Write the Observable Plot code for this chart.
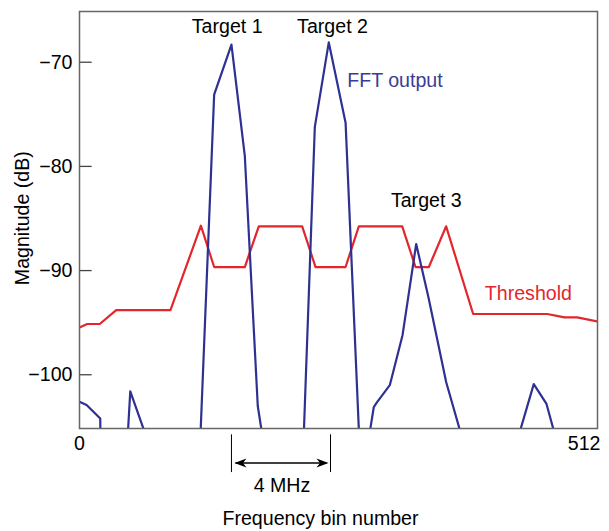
<!DOCTYPE html>
<html>
<head>
<meta charset="utf-8">
<script src="https://cdn.jsdelivr.net/npm/d3@7"></script>
<script src="https://cdn.jsdelivr.net/npm/@observablehq/plot@0.6"></script>
<style>
  html, body { margin: 0; padding: 0; background: #fff; }
</style>
</head>
<body>
<div id="chart"></div>
<script>
// FFT output (blue) — frequency bin vs magnitude (dB); values below the frame are estimated from slopes
const fftBins = [0, 7, 20.5, 21.5, 44, 50.2, 63.3, 67, 117, 133.1, 150.2, 163.4, 176.2, 185, 219, 232.6, 246.4, 263, 278, 285.5, 287.6, 290.9, 293.6, 306.7, 319.3, 332.8, 345, 362.4, 378, 430, 449, 461.6, 470, 512];
const fftDb   = [-102.6, -102.9, -104.2, -114, -112, -101.6, -105.2, -106.5, -112, -73.1, -68.3, -79.0, -103.0, -108.5, -113, -76.2, -68.1, -75.8, -109.5, -109, -105.1, -103.1, -102.7, -101.0, -96.2, -87.45, -92.6, -100.7, -106, -107.2, -100.9, -102.8, -105.8, -115];

// Threshold (red)
const thrBins = [0, 7.6, 20, 36.3, 89.9, 120, 133.1, 163.4, 177.2, 220.1, 233.3, 263, 276.1, 319, 332.1, 345.3, 362.4, 389.1, 462.3, 479.4, 491.9, 512];
const thrDb   = [-95.46, -95.13, -95.13, -93.79, -93.79, -85.69, -89.66, -89.66, -85.75, -85.75, -89.66, -89.66, -85.75, -85.75, -89.66, -89.66, -85.75, -94.17, -94.17, -94.5, -94.5, -94.88];

// Axis ticks
const yTicks = [-70, -80, -90, -100];
const xTickLabels = ["0", "512"];
const xTickBins = [0, 512];

// Annotations
const targetNames = ["Target 1", "Target 2", "Target 3"];
const targetBins = [146, 250.1, 342.8];
const targetDb = [-66.57, -66.57, -83.26];
const seriesNames = ["FFT output", "Threshold"];
const seriesBins = [264.6, 400.6];
const seriesDb = [-71.79, -92.19];

// 4 MHz spacing marker (between target 1 and target 2 peaks)
const markerBins = [150.2, 248.1];
const markerLabel = "4 MHz";

const blue = "#2e3192";
const red = "#e2262b";
const fs = 19.6;

const fft = fftBins.map((b, i) => ({bin: b, db: fftDb[i]}));
const thr = thrBins.map((b, i) => ({bin: b, db: thrDb[i]}));

// stealth arrowheads with tip at origin
function head(dir) {
  return {
    draw(context, size) {
      const k = Math.sqrt(size / Math.PI) / 6;
      context.moveTo(0, 0);
      context.lineTo(-12 * k * dir, -4.5 * k);
      context.lineTo(-8.5 * k * dir, 0);
      context.lineTo(-12 * k * dir, 4.5 * k);
      context.closePath();
    }
  };
}

const mid = (markerBins[0] + markerBins[1]) / 2;

const chart = Plot.plot({
  width: 609,
  height: 531,
  marginLeft: 79,
  marginRight: 12,
  marginTop: 11,
  marginBottom: 103,
  style: {fontFamily: "'Liberation Sans', Arial, Helvetica, sans-serif", fontSize: fs + "px", color: "#000", background: "#fff"},
  x: {domain: [0, 512]},
  y: {domain: [-105.16, -65.13]},
  marks: [
    Plot.line(thr, {x: "bin", y: "db", stroke: red, strokeWidth: 2.2, clip: true}),
    Plot.line(fft, {x: "bin", y: "db", stroke: blue, strokeWidth: 2.2, clip: true}),
    Plot.ruleY(yTicks, {x1: 0, x2: 12.5, stroke: "#444", strokeWidth: 1.3}),
    Plot.frame({stroke: "#666", strokeWidth: 1.5}),
    Plot.axisY({ticks: yTicks, tickSize: 0, tickPadding: 7, tickFormat: d => "\u2212" + Math.abs(d), label: null, fontSize: fs}),
    Plot.axisX({ticks: [xTickBins[0]], tickSize: 0, tickPadding: 8, tickFormat: () => xTickLabels[0], label: null, fontSize: fs}),
    Plot.axisX({ticks: [xTickBins[1]], tickSize: 0, tickPadding: 8, tickFormat: () => xTickLabels[1], textAnchor: "end", dx: 3, label: null, fontSize: fs}),
    Plot.text(targetNames, {x: (d, i) => targetBins[i], y: (d, i) => targetDb[i], text: d => d, fill: "#000", fontSize: fs, lineAnchor: "middle"}),
    Plot.text([seriesNames[0]], {x: seriesBins[0], y: seriesDb[0], text: d => d, fill: "#3a3d96", fontSize: fs, textAnchor: "start"}),
    Plot.text([seriesNames[1]], {x: seriesBins[1], y: seriesDb[1], text: d => d, fill: red, fontSize: fs, textAnchor: "start"}),
    Plot.text(["Magnitude (dB)"], {x: -56.6, y: -84.97, text: d => d, rotate: -90, fill: "#000", fontSize: fs}),
    Plot.text(["Frequency bin number"], {x: 238.2, y: -113.83, text: d => d, fill: "#000", fontSize: fs}),
    // 4 MHz marker
    Plot.ruleX(markerBins, {y1: -105.77, y2: -109.39, stroke: "#000", strokeWidth: 1}),
    Plot.link([0], {x1: markerBins[0] + 4, x2: markerBins[1] - 4, y1: -108.48, y2: -108.48, stroke: "#000", strokeWidth: 1.5}),
    Plot.dot([0], {x: markerBins[0], y: -108.48, dx: 3, symbol: head(-1), r: 6, fill: "#000", stroke: "none"}),
    Plot.dot([0], {x: markerBins[1], y: -108.48, dx: -2, symbol: head(1), r: 6, fill: "#000", stroke: "none"}),
    Plot.text([markerLabel], {x: mid + 1, y: -110.63, text: d => d, fill: "#000", fontSize: fs})
  ]
});
document.getElementById("chart").appendChild(chart);
</script>
</body>
</html>
